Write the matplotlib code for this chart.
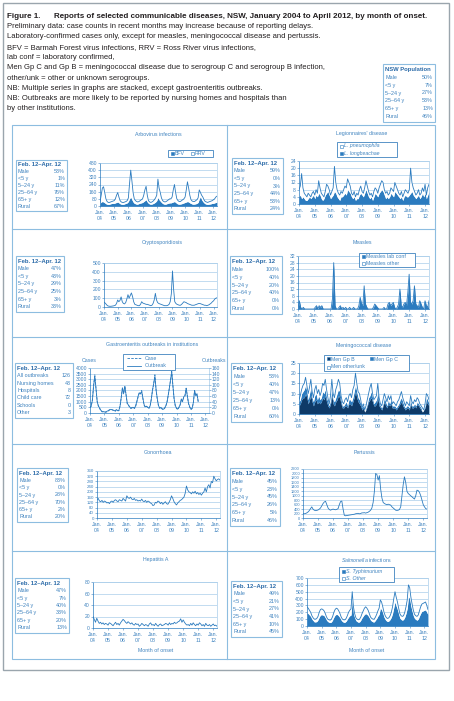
import numpy as np
import matplotlib
matplotlib.use('Agg')
import matplotlib.pyplot as plt
from matplotlib.patches import Rectangle
from matplotlib.lines import Line2D

plt.rcParams['font.family'] = ['Liberation Sans', 'DejaVu Sans']
plt.rcParams['mathtext.fontset'] = 'custom'
plt.rcParams['mathtext.rm'] = 'Liberation Sans'
plt.rcParams['mathtext.it'] = 'Liberation Sans:italic'

# ---- data: monthly counts, Jan 2004 .. Apr 2012 ----
years = ['04', '05', '06', '07', '08', '09', '10', '11', '12']

bfv = [30, 45, 50, 45, 35, 25, 20, 18, 20, 25, 28, 30,
       30, 35, 40, 45, 35, 25, 20, 18, 20, 25, 30, 35,
       50, 80, 100, 70, 45, 30, 25, 20, 22, 28, 32, 35,
       40, 50, 60, 70, 45, 30, 22, 20, 22, 28, 35, 45,
       60, 95, 70, 55, 40, 28, 22, 20, 22, 28, 32, 35,
       35, 40, 45, 50, 40, 28, 22, 20, 22, 25, 30, 35,
       40, 45, 50, 45, 35, 28, 22, 20, 22, 25, 30, 40,
       80, 105, 70, 50, 35, 25, 20, 18, 20, 22, 25, 30,
       30, 35, 40, 40]
rrv = [10, 75, 150, 170, 115, 55, 30, 22, 20, 20, 22, 25,
       30, 45, 80, 105, 65, 35, 25, 22, 20, 20, 20, 25,
       40, 170, 300, 210, 105, 50, 35, 30, 23, 22, 28, 35,
       40, 70, 120, 150, 75, 30, 23, 20, 23, 27, 35, 45,
       60, 205, 130, 95, 50, 32, 28, 25, 28, 32, 38, 45,
       45, 60, 135, 190, 110, 52, 38, 30, 28, 35, 40, 45,
       60, 135, 220, 155, 85, 42, 33, 30, 28, 35, 40, 50,
       100, 45, 50, 50, 35, 25, 25, 22, 25, 28, 30, 30,
       40, 45, 60, 70]

l_longbeachae = [4, 5, 3, 4, 3, 2, 2, 3, 4, 3, 4, 5,
                 3, 5, 4, 6, 5, 3, 2, 3, 5, 6, 7, 5,
                 3, 4, 5, 7, 6, 4, 3, 2, 4, 4, 5, 6,
                 5, 8, 7, 6, 4, 3, 4, 2, 3, 3, 5, 6,
                 5, 4, 6, 8, 6, 4, 3, 4, 2, 4, 6, 5,
                 4, 6, 7, 8, 7, 5, 3, 4, 3, 4, 6, 5,
                 4, 7, 6, 5, 4, 3, 4, 2, 4, 5, 4, 4,
                 5, 6, 7, 5, 4, 3, 4, 5, 3, 4, 6, 4,
                 6, 3, 5, 7]
l_pneumophila = [4, 5, 14, 5, 3, 3, 2, 3, 1, 1, 2, 2,
                 2, 3, 2, 7, 4, 3, 3, 1, 2, 5, 3, 3,
                 2, 3, 4, 14, 6, 4, 3, 3, 3, 2, 3, 4,
                 4, 6, 5, 4, 2, 2, 3, 2, 3, 2, 3, 4,
                 2, 2, 3, 5, 4, 3, 2, 2, 2, 3, 3, 3,
                 2, 3, 4, 5, 5, 3, 3, 3, 2, 2, 3, 3,
                 3, 5, 4, 3, 2, 2, 3, 2, 2, 3, 3, 2,
                 3, 14, 5, 4, 3, 2, 2, 3, 2, 2, 3, 3,
                 5, 2, 4, 4]

crypto = [55, 45, 30, 15, 10, 8, 8, 10, 12, 15, 20, 40,
          80, 60, 75, 115, 60, 40, 35, 50, 90, 140, 100, 130,
          160, 120, 60, 30, 25, 20, 15, 15, 30, 60, 45, 40,
          35, 30, 30, 25, 20, 15, 20, 40, 80, 155, 80, 50,
          40, 35, 30, 25, 20, 15, 15, 15, 20, 30, 60, 150,
          410, 200, 60, 40, 30, 25, 20, 20, 30, 45, 60, 55,
          50, 40, 35, 30, 25, 20, 20, 20, 25, 30, 35, 40,
          40, 35, 30, 25, 20, 20, 15, 20, 25, 35, 45, 60,
          70, 90, 100, 105]

measles_lab = [0, 5, 1, 0, 1, 0, 0, 0, 0, 0, 0, 0,
               0, 1, 2, 0, 2, 1, 2, 0, 0, 0, 0, 0,
               0, 0, 6, 27, 2, 0, 0, 1, 2, 0, 1, 0,
               1, 0, 0, 1, 0, 0, 1, 0, 0, 0, 2, 7,
               3, 2, 13, 3, 1, 0, 0, 0, 0, 1, 3, 2,
               1, 0, 0, 0, 0, 1, 0, 0, 3, 4, 2, 3,
               4, 1, 0, 1, 3, 12, 2, 1, 3, 4, 2, 10,
               20, 4, 3, 5, 14, 3, 2, 1, 5, 3, 1, 0,
               5, 2, 1, 5]
measles_other = [0, 0, 0, 0, 0, 0, 0, 0, 0, 0, 0, 0,
                 0, 0, 0, 0, 0, 0, 0, 0, 0, 0, 0, 0,
                 0, 0, 0, 1, 0, 0, 0, 0, 0, 0, 0, 0,
                 0, 0, 0, 0, 0, 0, 0, 0, 0, 0, 0, 0,
                 0, 0, 1, 0, 0, 0, 0, 0, 0, 0, 0, 0,
                 0, 0, 0, 0, 0, 0, 0, 0, 0, 0, 0, 0,
                 0, 0, 0, 0, 0, 0, 0, 0, 0, 0, 0, 0,
                 1, 0, 0, 0, 0, 0, 0, 0, 0, 0, 0, 0,
                 0, 0, 0, 0]

gastro_cases = [450, 600, 1200, 2500, 3400, 2200, 1000, 600, 400, 200, 100, 100,
                80, 60, 100, 150, 250, 300, 300, 250, 200, 150, 300, 200,
                200, 600, 1400, 2300, 1700, 2400, 1600, 800, 700, 500, 400, 450,
                500, 400, 600, 1000, 1400, 1800, 1700, 2000, 1300, 700, 500, 600,
                500, 400, 600, 1200, 2000, 2600, 3400, 2000, 1200, 600, 400, 500,
                350, 300, 400, 600, 900, 1500, 2200, 2900, 3700, 2400, 1200, 600,
                400, 300, 500, 700, 1200, 1000, 1400, 1500, 2200, 1500, 800, 500,
                300, 400, 900, 2000, 1500, 1700, 1000]
gastro_outbreaks = [20, 25, 45, 95, 130, 85, 40, 25, 18, 10, 6, 5,
                    4, 4, 6, 8, 11, 13, 12, 11, 9, 8, 12, 9,
                    9, 25, 55, 88, 70, 95, 65, 35, 28, 22, 17, 20,
                    20, 17, 26, 42, 60, 72, 68, 76, 52, 30, 22, 24,
                    20, 18, 25, 50, 82, 105, 130, 82, 50, 26, 18, 20,
                    15, 13, 17, 25, 38, 62, 88, 118, 145, 95, 50, 26,
                    17, 14, 20, 30, 50, 42, 58, 62, 88, 60, 34, 22,
                    14, 18, 38, 80, 62, 68, 42]

men_b = [4, 5, 7, 8, 8, 10, 8, 5, 7, 9, 6, 4,
         6, 7, 5, 6, 5, 6, 8, 7, 9, 6, 4, 3,
         5, 9, 5, 4, 6, 7, 9, 8, 5, 3, 3, 4,
         4, 3, 5, 5, 4, 6, 8, 11, 8, 6, 5, 4,
         2, 3, 1, 2, 4, 6, 7, 8, 6, 4, 4, 5,
         8, 4, 3, 2, 4, 6, 4, 3, 5, 4, 5, 3,
         3, 3, 2, 3, 4, 5, 6, 4, 3, 2, 3, 3,
         2, 5, 3, 3, 4, 3, 5, 4, 3, 2, 1, 2,
         3, 6, 5, 4]
men_c = [2, 2, 3, 3, 4, 4, 3, 2, 3, 4, 2, 2,
         3, 3, 2, 3, 2, 2, 3, 3, 3, 2, 2, 1,
         2, 3, 2, 2, 2, 3, 3, 3, 2, 1, 1, 1,
         2, 1, 2, 2, 2, 2, 3, 3, 3, 2, 2, 1,
         1, 1, 0, 1, 1, 2, 2, 3, 2, 1, 2, 2,
         3, 2, 1, 1, 1, 2, 2, 1, 2, 1, 2, 1,
         1, 1, 1, 1, 1, 2, 2, 2, 1, 1, 1, 1,
         1, 2, 1, 1, 1, 1, 1, 1, 1, 1, 0, 0,
         1, 2, 2, 1]
men_other = [1, 2, 2, 3, 3, 4, 3, 3, 3, 4, 3, 2,
             3, 4, 3, 3, 2, 3, 4, 4, 5, 4, 2, 1,
             2, 5, 3, 2, 4, 4, 5, 4, 2, 2, 1, 2,
             2, 2, 2, 3, 2, 4, 3, 6, 4, 3, 3, 2,
             0, 1, 1, 1, 2, 2, 4, 4, 2, 2, 2, 2,
             4, 2, 1, 1, 2, 2, 2, 2, 2, 2, 2, 1,
             2, 1, 1, 2, 2, 2, 3, 2, 2, 1, 2, 1,
             1, 2, 2, 1, 2, 2, 2, 2, 1, 1, 2, 0,
             1, 2, 2, 2]

gonorrhoea = [140, 150, 130, 125, 135, 120, 130, 125, 115, 120, 110, 125,
              130, 120, 135, 140, 130, 125, 140, 135, 130, 150, 140, 130,
              170, 155, 150, 160, 145, 140, 150, 135, 140, 130, 135, 130,
              145, 130, 125, 135, 120, 130, 125, 115, 110, 95, 100, 120,
              115, 130, 125, 110, 120, 105, 115, 125, 110, 105, 120, 140,
              170, 150, 125, 110, 100, 115, 125, 135, 140, 150, 160, 190,
              245, 215, 200, 195, 185, 200, 190, 205, 185, 195, 180, 190,
              175, 190, 200, 230, 200, 240, 255, 230, 280, 270, 320, 300,
              285, 295, 300, 290]

pertussis = [200, 190, 200, 230, 270, 330, 420, 500, 400, 350, 330, 340,
             360, 400, 450, 550, 650, 720, 750, 600, 450, 380, 350, 380,
             400, 380, 370, 390, 420, 600, 740, 760, 400, 120, 100, 110,
             120, 130, 140, 150, 160, 170, 190, 200, 210, 190, 200, 230,
             230, 240, 220, 240, 260, 300, 350, 450, 700, 1200, 2000, 1950,
             1700, 1900, 1300, 900, 700, 650, 620, 600, 620, 600, 580, 500,
             450, 400, 350, 340, 350, 380, 500, 1000, 1500, 1850, 1600, 1200,
             1100, 1050, 1000, 950, 900, 850, 1000, 1250, 1230, 1150, 1000, 800,
             600, 500, 420, 400]

hep_a = [20, 15, 10, 17, 12, 8, 10, 7, 9, 6, 8, 7,
         5, 9, 8, 6, 4, 7, 10, 6, 8, 5, 9, 12,
         15, 13, 10, 8, 11, 9, 7, 9, 6, 5, 8, 6,
         7, 3, 5, 8, 6, 4, 6, 5, 3, 7, 9, 5,
         6, 4, 8, 5, 3, 6, 7, 4, 5, 6, 8, 7,
         5, 9, 6, 8, 7, 10, 8, 9, 11, 12, 16, 10,
         14, 10, 7, 5, 6, 4, 8, 5, 9, 6, 4, 7,
         5, 9, 7, 4, 6, 3, 8, 5, 4, 6, 3, 5,
         7, 4, 5, 3]

s_typhimurium = [190, 180, 160, 140, 100, 80, 60, 60, 65, 90, 130, 160,
                 165, 160, 150, 120, 85, 65, 55, 50, 60, 90, 130, 160,
                 170, 165, 145, 120, 85, 65, 55, 55, 70, 100, 130, 150,
                 160, 380, 180, 120, 80, 65, 55, 60, 85, 120, 145, 170,
                 180, 170, 150, 120, 85, 70, 60, 60, 85, 110, 145, 170,
                 260, 240, 190, 130, 95, 75, 65, 75, 95, 130, 185, 270,
                 350, 290, 240, 175, 115, 95, 85, 95, 130, 185, 260, 430,
                 400, 290, 215, 150, 110, 95, 85, 100, 145, 185, 215, 220,
                 230, 235, 200, 165]
s_other = [90, 80, 70, 60, 50, 40, 40, 40, 45, 50, 70, 80,
           85, 80, 70, 60, 45, 35, 35, 35, 40, 50, 70, 80,
           90, 85, 75, 60, 45, 35, 35, 35, 40, 50, 70, 80,
           90, 120, 100, 60, 40, 35, 35, 40, 45, 60, 75, 90,
           100, 90, 80, 60, 45, 40, 40, 40, 45, 60, 75, 90,
           120, 110, 90, 70, 55, 45, 45, 45, 55, 70, 95, 130,
           150, 130, 110, 85, 65, 55, 55, 55, 70, 95, 120, 170,
           160, 130, 105, 80, 60, 55, 55, 60, 75, 95, 105, 110,
           110, 115, 100, 75]

age_rows = ['Male', '<5 y', '5–24 y', '25–64 y', '65+ y', 'Rural']
nsw_pop = ['50%', '7%', '27%', '53%', '13%', '46%']
st_arbo = ['53%', '1%', '11%', '76%', '12%', '67%']
st_legion = ['59%', '0%', '3%', '44%', '53%', '24%']
st_crypto = ['47%', '43%', '29%', '25%', '3%', '33%']
st_measles = ['100%', '40%', '20%', '40%', '0%', '0%']
gastro_rows = ['All outbreaks', 'Nursing homes', 'Hospitals', 'Child care', 'Schools', 'Other']
st_gastro = ['126', '43', '8', '72', '0', '3']
st_men = ['53%', '40%', '47%', '13%', '0%', '60%']
st_gono = ['83%', '0%', '28%', '70%', '2%', '20%']
st_pert = ['45%', '23%', '45%', '26%', '5%', '46%']
st_hepa = ['47%', '7%', '40%', '33%', '20%', '13%']
st_salm = ['49%', '21%', '27%', '41%', '10%', '45%']

# ---- styling ----
BLUE = '#2b7bbf'
NAVY = '#0e3a68'
BORDER = '#8dbde0'
TXT = '#3f83bf'
GRID = '#a9cdea'
DARK = '#231f20'

W, H = 454, 701
fig = plt.figure(figsize=(W / 100, H / 100), dpi=100)


def rect(x0, y0, x1, y1):
    return [x0 / W, 1 - y1 / H, (x1 - x0) / W, (y1 - y0) / H]


def box(x0, y0, x1, y1, ec=BORDER, lw=0.8, fc='none', z=2):
    fig.add_artist(Rectangle((x0 / W, 1 - y1 / H), (x1 - x0) / W, (y1 - y0) / H,
                             transform=fig.transFigure, fc=fc, ec=ec, lw=lw, zorder=z))


def hline(x0, x1, y, color=BORDER, lw=0.8):
    fig.add_artist(Line2D([x0 / W, x1 / W], [1 - y / H, 1 - y / H],
                          transform=fig.transFigure, color=color, lw=lw))


def vline(x, y0, y1, color=BORDER, lw=0.8):
    fig.add_artist(Line2D([x / W, x / W], [1 - y0 / H, 1 - y1 / H],
                          transform=fig.transFigure, color=color, lw=lw))


def txt(x, y, s, size=3.8, color=TXT, **kw):
    kw.setdefault('va', 'center')
    fig.text(x / W, 1 - y / H, s, fontsize=size, color=color, zorder=6, **kw)


def stats(x0, y0, x1, y1, labels, values, head='Feb. 12–Apr. 12'):
    box(x0, y0, x1, y1, ec=BORDER, lw=0.8, fc='white')
    step = (y1 - y0 - 3) / (len(labels) + 1)
    txt(x0 + 2, y0 + 1.5 + step * 0.5, head, size=4.2, weight='bold', color='#2a6aa8')
    for i, (lab, val) in enumerate(zip(labels, values)):
        yy = y0 + 1.5 + step * (i + 1.5)
        txt(x0 + 2, yy, lab, size=3.9)
        txt(x1 - 2, yy, val, size=3.9, ha='right')


def legend(x0, y0, x1, y1, items):
    box(x0, y0, x1, y1, ec=TXT, lw=0.6, fc='white', z=5)
    for (x, y, kind, label, style) in items:
        if kind in ('fill', 'empty', 'navy'):
            fc = {'fill': BLUE, 'empty': 'white', 'navy': NAVY}[kind]
            fig.add_artist(Rectangle(((x - 1.5) / W, 1 - (y + 1.5) / H), 3 / W, 3 / H,
                                     transform=fig.transFigure, fc=fc, ec=BLUE,
                                     lw=0.4, zorder=6))
            txt(x + 3, y, label, style=style)
        else:
            ls = '--' if kind == 'dash' else '-'
            fig.add_artist(Line2D([x / W, (x + 14) / W], [1 - y / H, 1 - y / H],
                                  transform=fig.transFigure, color=BLUE, lw=0.6,
                                  ls=ls, dashes=(3, 1.5) if ls == '--' else (None, None),
                                  zorder=6))
            txt(x + 18, y, label)


def make_ax(r, ymax, ystep, ysize=3.6):
    ax = fig.add_axes(rect(*r))
    ax.set_xlim(0, 99)
    ax.set_ylim(0, ymax)
    ax.set_yticks(np.arange(0, ymax + 1, ystep))
    ax.set_xticks(np.arange(0, 97, 12))
    ax.set_xticklabels(['Jan.\n' + y for y in years], linespacing=1.25)
    ax.tick_params(axis='x', labelsize=3.8, colors=TXT, length=1.2, width=0.4, pad=1.5)
    ax.tick_params(axis='y', labelsize=ysize, colors=TXT, length=1.2, width=0.4, pad=1)
    ax.grid(axis='y', color=GRID, lw=0.5)
    ax.set_axisbelow(True)
    for s in ax.spines.values():
        s.set_color(GRID)
        s.set_linewidth(0.5)
    ax.spines['left'].set_color(BLUE)
    ax.spines['bottom'].set_color(BLUE)
    return ax


def stack(ax, layers, colors, x=None):
    x = np.arange(len(layers[0]))
    base = np.zeros(len(x))
    for vals, c in zip(layers, colors):
        top = base + np.array(vals)
        ax.fill_between(x, base, top, color=c, lw=0)
        base = top
    ax.plot(x, base, color=BLUE, lw=0.6)


# ---- frames ----
box(3, 3, 449, 670, ec='#9aa5ad', lw=1.0)
box(12, 125, 435, 659, ec=BORDER, lw=0.8)
vline(227, 125, 659)
for yy in (229, 337, 444, 551):
    hline(12, 435, yy)

# ---- header ----
txt(7, 16, 'Figure 1.', size=5.8, color=DARK, weight='bold')
txt(54, 16, 'Reports of selected communicable diseases, NSW, January 2004 to April 2012, by month of onset.',
    size=5.8, color=DARK, weight='bold')
header_lines = [
    'Preliminary data: case counts in recent months may increase because of reporting delays.',
    'Laboratory-confirmed cases only, except for measles, meningococcal disease and pertussis.',
    'BFV = Barmah Forest virus infections, RRV = Ross River virus infections,',
    'lab conf = laboratory confirmed,',
    'Men Gp C and Gp B = meningococcal disease due to serogroup C and serogroup B infection,',
    'other/unk = other or unknown serogroups.',
    'NB: Multiple series in graphs are stacked, except gastroenteritis outbreaks.',
    'NB: Outbreaks are more likely to be reported by nursing homes and hospitals than',
    'by other institutions.',
]
for i, line in enumerate(header_lines):
    txt(7, 26.5 + i * 10.3, line, size=5.5, color=DARK)

stats(383, 64, 435, 122, age_rows, nsw_pop, head='NSW Population')

# ---- Arbovirus ----
txt(158, 135, 'Arbovirus infections', ha='center')
ax = make_ax((100, 163, 217, 206), 480, 80)
stack(ax, [bfv, rrv], [BLUE, 'white'])
stats(16, 160, 67, 211, age_rows, st_arbo)
legend(168, 150, 213, 157, [(172, 153.5, 'fill', 'BFV', 'normal'),
                            (192, 153.5, 'empty', 'RRV', 'normal')])

# ---- Legionnaires ----
txt(362, 134, "Legionnaires' disease", ha='center')
ax = make_ax((299, 161, 429, 204), 24, 4)
stack(ax, [l_longbeachae, l_pneumophila], [BLUE, 'white'])
stats(232, 158, 283, 214, age_rows, st_legion)
legend(337, 142, 397, 157, [(341, 146, 'empty', 'L. pneumophila', 'italic'),
                            (341, 153, 'fill', 'L. longbeachae', 'italic')])

# ---- Cryptosporidiosis ----
txt(162, 242, 'Cryptosporidiosis', ha='center')
ax = make_ax((104, 263, 217, 307), 500, 100)
ax.plot(np.arange(len(crypto)), crypto, color=BLUE, lw=0.6)
stats(16, 256, 64, 312, age_rows, st_crypto)

# ---- Measles ----
txt(362, 242, 'Measles', ha='center')
ax = make_ax((298, 256, 429, 309), 32, 4)
stack(ax, [measles_lab, measles_other], [BLUE, 'white'])
stats(230, 256, 282, 314, age_rows, st_measles)
legend(359, 253, 415, 267, [(363, 256.5, 'fill', 'Measles lab conf', 'normal'),
                            (363, 263.5, 'empty', 'Measles other', 'normal')])

# ---- Gastroenteritis outbreaks ----
txt(152, 345, 'Gastroenteritis outbreaks in institutions', ha='center')
ax = make_ax((90, 368, 209, 413), 4000, 500)
ax.plot(np.arange(len(gastro_cases)), gastro_cases, color=BLUE, lw=0.6, ls='--', dashes=(3, 1.5))
ax2 = ax.twinx()
ax2.set_ylim(0, 160)
ax2.set_yticks(np.arange(0, 161, 20))
ax2.tick_params(axis='y', labelsize=3.6, colors=TXT, length=1.2, width=0.4, pad=1)
for s in ax2.spines.values():
    s.set_visible(False)
ax2.plot(np.arange(len(gastro_outbreaks)), gastro_outbreaks, color=BLUE, lw=0.6)
txt(89, 361, 'Cases', ha='center')
txt(226, 361, 'Outbreaks', ha='right')
stats(15, 363, 73, 418, gastro_rows, st_gastro)
legend(123, 354, 175, 370, [(127, 358, 'dash', 'Case', 'normal'),
                            (127, 366, 'line', 'Outbreak', 'normal')])

# ---- Meningococcal ----
txt(364, 346, 'Meningococcal disease', ha='center')
ax = make_ax((299, 363, 429, 414), 25, 5)
stack(ax, [men_b, men_c, men_other], [NAVY, BLUE, 'white'])
stats(231, 363, 282, 422, age_rows, st_men)
legend(324, 355, 409, 371, [(328, 359, 'navy', 'Men Gp B', 'normal'),
                            (371, 359, 'fill', 'Men Gp C', 'normal'),
                            (328, 367, 'empty', 'Men other/unk', 'normal')])

# ---- Gonorrhoea ----
txt(158, 453, 'Gonorrhoea', ha='center')
ax = make_ax((97, 471, 220, 518), 360, 40, ysize=3.2)
ax.plot(np.arange(len(gonorrhoea)), gonorrhoea, color=BLUE, lw=0.6)
stats(17, 468, 68, 522, age_rows, st_gono)

# ---- Pertussis ----
txt(364, 453, 'Pertussis', ha='center')
ax = make_ax((303, 469, 427, 518), 2200, 200, ysize=2.9)
ax.plot(np.arange(len(pertussis)), pertussis, color=BLUE, lw=0.6)
stats(230, 468, 280, 526, age_rows, st_pert)

# ---- Hepatitis A ----
txt(156, 560, 'Hepatitis A', ha='center')
ax = make_ax((93, 582, 217, 628), 80, 20)
ax.plot(np.arange(len(hep_a)), hep_a, color=BLUE, lw=0.6)
stats(15, 578, 69, 633, age_rows, st_hepa)
txt(156, 651, 'Month of onset', ha='center')

# ---- Salmonella ----
txt(367, 560, r'$\mathit{Salmonella}$ infections', ha='center')
ax = make_ax((307, 578, 428, 626), 700, 100)
stack(ax, [s_typhimurium, s_other], [BLUE, 'white'])
stats(231, 581, 282, 637, age_rows, st_salm)
legend(339, 567, 394, 582, [(343, 571, 'fill', 'S. Typhimurium', 'italic'),
                            (343, 578, 'empty', 'S. Other', 'italic')])
txt(367, 650, 'Month of onset', ha='center')

fig.savefig('out.png', dpi=100)
